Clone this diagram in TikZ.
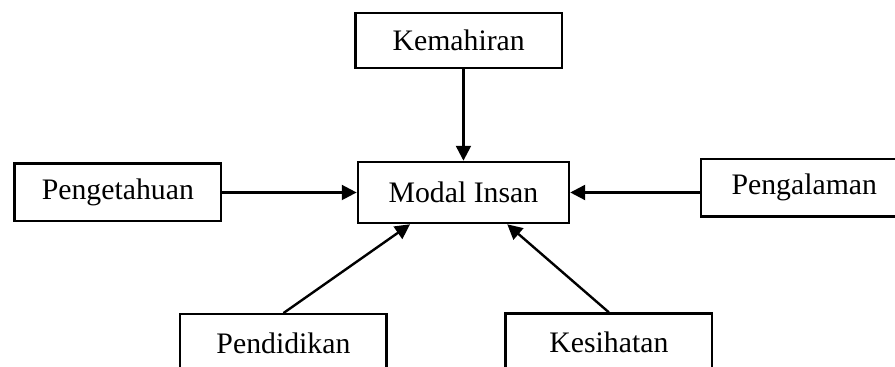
\documentclass[tikz,border=0pt]{standalone}
\usepackage{fontspec}
\setmainfont{Liberation Serif}
\usepackage{tikz}
\usetikzlibrary{positioning}
\usetikzlibrary{arrows.meta,calc}

\tikzset{
	factor/.style={draw, line width=1pt, minimum width=86pt, minimum height=24pt,
		inner sep=2pt, font=\fontsize{12.4pt}{14pt}\selectfont},
	core/.style={factor, minimum width=88pt, minimum height=25.5pt},
}

\begin{document}
\begin{tikzpicture}[>={Triangle[length=6.2pt,width=6.2pt]}, line width=1pt]
	\node[core] (modal) {Modal Insan};
	\useasboundingbox ($(modal)+(-193.1pt,80.2pt)$) rectangle ($(modal)+(179.8pt,-72.7pt)$);
	
	\node[factor, minimum height=23pt] (kemahiran) [above = 38pt of modal, xshift=-2pt] {Kemahiran};
	\node[factor] (pengetahuan) [left = 56pt of modal] {Pengetahuan};
	\node[factor] (pengalaman) [right = 54pt of modal, yshift=2pt] {Pengalaman};
	\node[factor] (pendidikan) [below = 37pt of modal, xshift=-75pt] {Pendidikan};
	\node[factor] (kesihatan) [below = 36.7pt of modal, xshift=60.6pt] {Kesihatan};
	
	\draw[->] (kemahiran.south -| modal.north) -- (modal.north);
	\draw[->] (pengetahuan.east) -- (modal.west);
	\draw[->] (pengalaman.west |- modal.east) -- (modal.east);
	\draw[->] (pendidikan.north) -- ($(modal.south west)!0.25!(modal.south east)$);
	\draw[->] (kesihatan.north) -- ($(modal.south west)!0.705!(modal.south east)$);
\end{tikzpicture}
\end{document}
